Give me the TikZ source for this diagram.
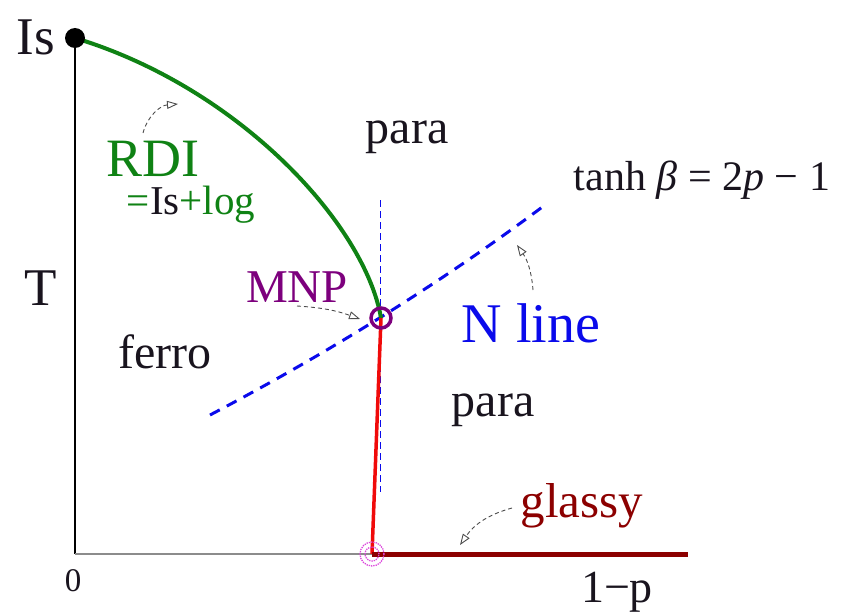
\documentclass[tikz,border=0pt]{standalone}
\usepackage{fontspec}
\setmainfont{Liberation Serif}
\usetikzlibrary{arrows.meta}
\definecolor{cgreen}{RGB}{15,130,20}
\definecolor{cpurple}{RGB}{125,0,125}
\definecolor{cblue}{RGB}{10,10,235}
\definecolor{cdred}{RGB}{140,0,0}
\definecolor{cred}{RGB}{240,10,10}
\definecolor{cmag}{RGB}{220,70,220}
\definecolor{ctext}{RGB}{25,20,30}
\newcommand{\fsz}[1]{\fontsize{#1}{#1}\selectfont}
\begin{document}
\begin{tikzpicture}[x=1pt,y=-1pt,
  lbl/.style={inner sep=0pt, anchor=base, text=ctext},
  note/.style={draw=black!70, line width=0.9pt, dash pattern=on 4pt off 3pt,
    -{Triangle[open,length=11pt,width=8pt]}},
]
\useasboundingbox (0,0) rectangle (846,615);
% key points
\coordinate (O) at (75,554);
\coordinate (Is) at (75,38);
\coordinate (M) at (381,318);
\coordinate (Q) at (372,554);
\coordinate (E) at (688,554);
\coordinate (Nl) at (210,415);
\coordinate (Nr) at (545,205);
\coordinate (Vt) at (380,200);
\coordinate (Vb) at (380,492);
% axes
\draw[black, line width=1.4pt] (Is) -- (O);
\draw[black!45, line width=2pt] (O) -- (Q);
% vertical thin dashed
\draw[cblue, line width=1pt, dash pattern=on 7pt off 4pt] (Vt) -- (Vb);
% Nishimori line
\draw[cblue, line width=3pt, dash pattern=on 11pt off 8pt] (Nl) .. controls (330,352) and (442,282) .. (Nr);
% RDI curve
\draw[cgreen, line width=4pt] (Is) .. controls (240,88) and (365,225) .. (M);
% red phase boundary
\draw[cred, line width=3.5pt] (M) -- (Q);
% glassy line
\draw[cdred, line width=5pt] (Q) -- (E);
% points
\fill[black] (Is) circle (10pt);
\draw[cmag, densely dotted, line width=1.3pt] (Q) circle (12pt) circle (7pt);
\draw[cpurple, line width=3.5pt] (M) circle (10pt);
% labels
\node[lbl, font=\fsz{53}] (lIs) at (36,55) {Is};
\node[lbl, font=\fsz{53}] (lT) at (41,305) {T};
\node[lbl, font=\fsz{48}] (lferro) at (165,368) {ferro};
\node[lbl, font=\fsz{48}] (lpara1) at (407,143) {para};
\node[lbl, font=\fsz{48}] (lpara2) at (493,416) {para};
\node[lbl, font=\fsz{54}, text=cgreen] (lRDI) at (153,176) {RDI};
\node[lbl, font=\fsz{41}, text=cgreen] (llog) at (191,214) {=\textcolor{ctext}{Is}+log};
\node[lbl, font=\fsz{47}, text=cpurple] (lMNP) at (297,302) {MNP};
\node[lbl, font=\fsz{56}, text=cblue] (lN) at (531,342) {N line};
\node[lbl, font=\fsz{42}] (ltanh) at (702,190) {tanh \textit{β} = 2\textit{p} − 1};
\node[lbl, font=\fsz{49}, text=cdred] (lglassy) at (582,517) {glassy};
\node[lbl, font=\fsz{46}] (l1p) at (617,602) {1−p};
\node[lbl, font=\fsz{33}] (l0) at (73,591) {0};
% annotation arrows
\coordinate (aRDIs) at (143,133);
\coordinate (aRDIe) at (178,104);
\draw[note] (aRDIs) to[bend left=35] (aRDIe);
\coordinate (aMs) at (297,306);
\coordinate (aMe) at (360,319);
\draw[note] (aMs) to[bend left=8] (aMe);
\coordinate (aNs) at (533,290);
\coordinate (aNe) at (517,245);
\draw[note] (aNs) to[bend right=15] (aNe);
\coordinate (aGs) at (512,508);
\coordinate (aGe) at (460,545);
\draw[note] (aGs) to[bend right=20] (aGe);
\end{tikzpicture}
\end{document}
